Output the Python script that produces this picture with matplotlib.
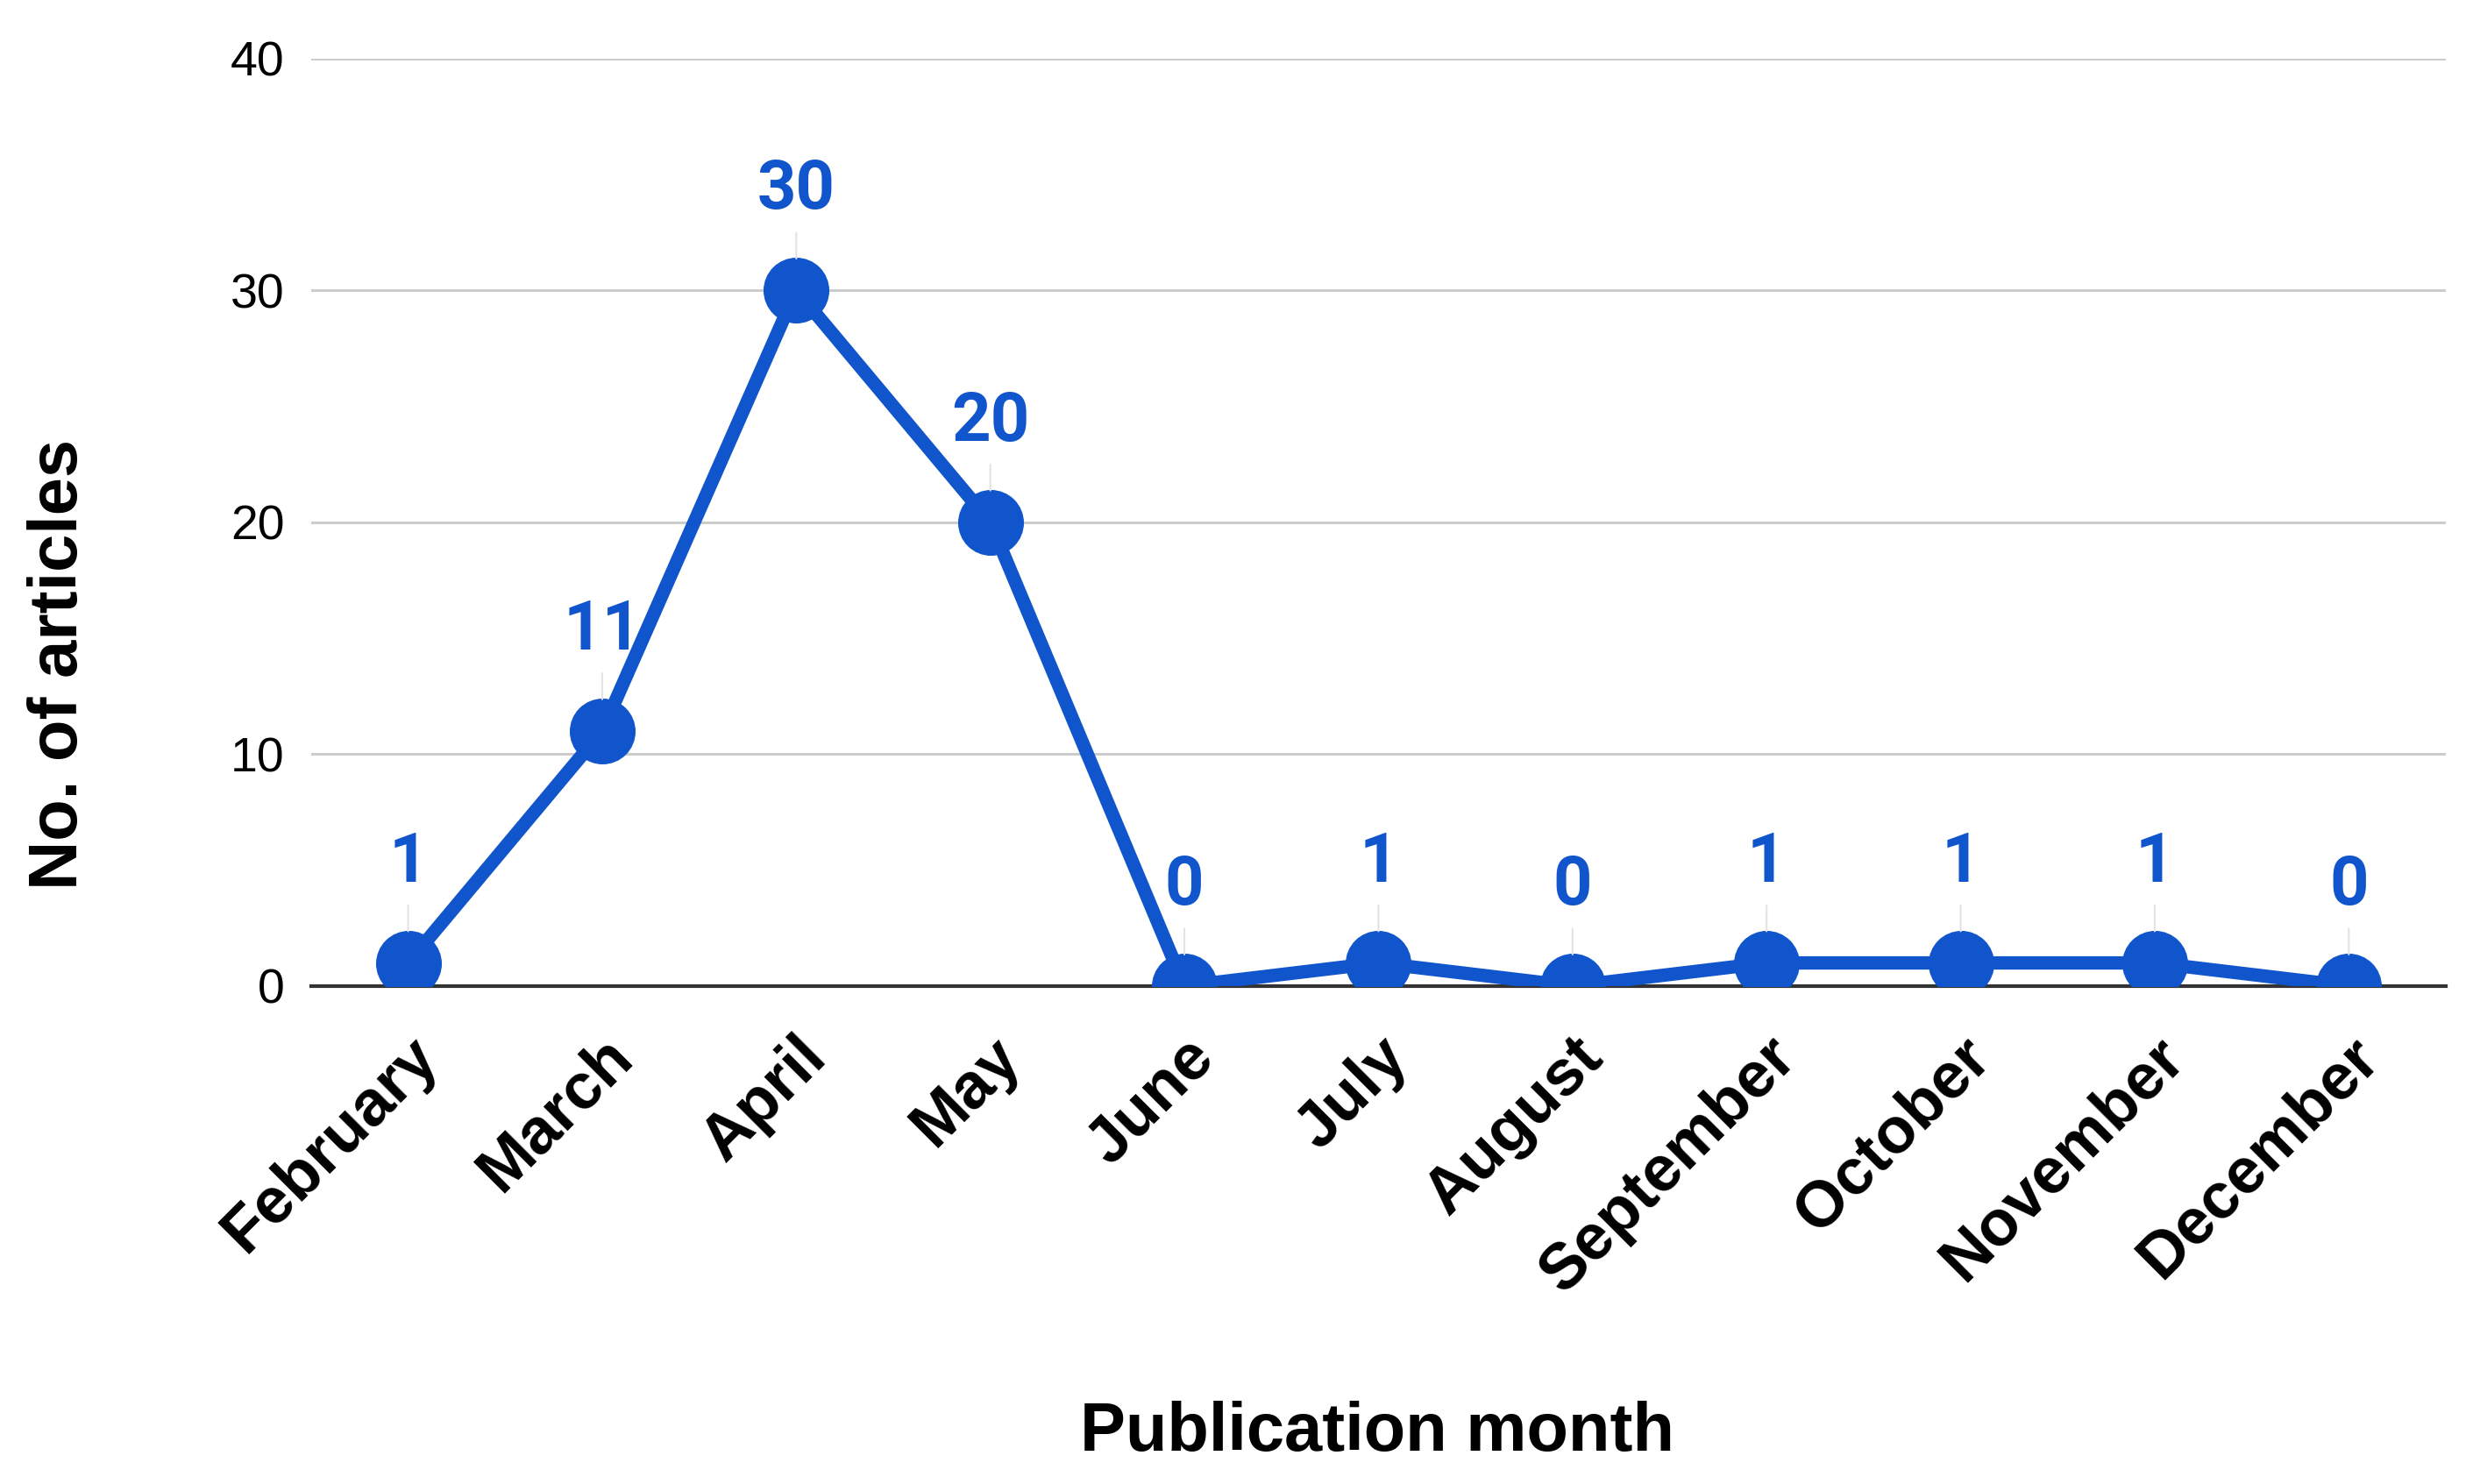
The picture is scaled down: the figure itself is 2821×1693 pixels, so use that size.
import matplotlib
matplotlib.use('Agg')
import matplotlib.pyplot as plt
import matplotlib.transforms as mtransforms

months = ['February', 'March', 'April', 'May', 'June', 'July',
          'August', 'September', 'October', 'November', 'December']
articles = [1, 11, 30, 20, 0, 1, 0, 1, 1, 1, 0]
y_ticks = [0, 10, 20, 30, 40]

blue = '#1155cc'

fig = plt.figure(figsize=(28.21, 16.93), dpi=100)
ax = fig.add_axes([0.1258, 0.3355, 0.8632, 0.6252])

x = list(range(len(months)))
ax.plot(x, articles, color=blue, lw=11, marker='o', ms=53,
        solid_joinstyle='miter', zorder=3)

# data labels with faint leader lines
for xi, v in zip(x, articles):
    ax.annotate(str(v), xy=(xi, v), xytext=(0, 82), textcoords='offset points',
                ha='center', va='center', color=blue, fontsize=56,
                fontweight='bold', family='Roboto', zorder=4,
                arrowprops=dict(arrowstyle='-', color='#e3e3e3', lw=1.5,
                                shrinkA=6, shrinkB=26))

ax.set_xlim(-0.5, len(months) - 0.5)
ax.set_ylim(0, 40)
ax.set_yticks(y_ticks)
ax.set_yticklabels([str(t) for t in y_ticks], fontsize=40,
                   family='Liberation Sans')
ax.set_xticks(x)
ax.set_xticklabels([])

# month labels, rotated, anchored at their right end
lab_trans = ax.get_xaxis_transform() + mtransforms.ScaledTranslation(
    0.23, -0.70, fig.dpi_scale_trans)
for xi, m in zip(x, months):
    ax.text(xi, 0, m, transform=lab_trans, rotation=45, ha='right',
            va='center', rotation_mode='anchor', fontsize=53,
            fontweight='bold', family='Liberation Sans', clip_on=False)

ax.tick_params(axis='both', length=0)
ax.tick_params(axis='y', pad=22)

ax.grid(axis='y', color='#cccccc', lw=2.2, zorder=0)
ax.set_axisbelow(True)
for s in ['top', 'right', 'left']:
    ax.spines[s].set_visible(False)
ax.spines['bottom'].set_color('#333333')
ax.spines['bottom'].set_linewidth(3)
ax.spines['bottom'].set_zorder(2)

fig.text(0.5569, 1 - 1634 / 1693, 'Publication month', ha='center',
         va='center', fontsize=56, fontweight='bold', family='Liberation Sans')
fig.text(68 / 2821, 1 - 758 / 1693, 'No. of articles', ha='center',
         va='center', rotation=90, fontsize=56, fontweight='bold',
         family='Liberation Sans')

fig.savefig('out.png', dpi=100, facecolor='white')
